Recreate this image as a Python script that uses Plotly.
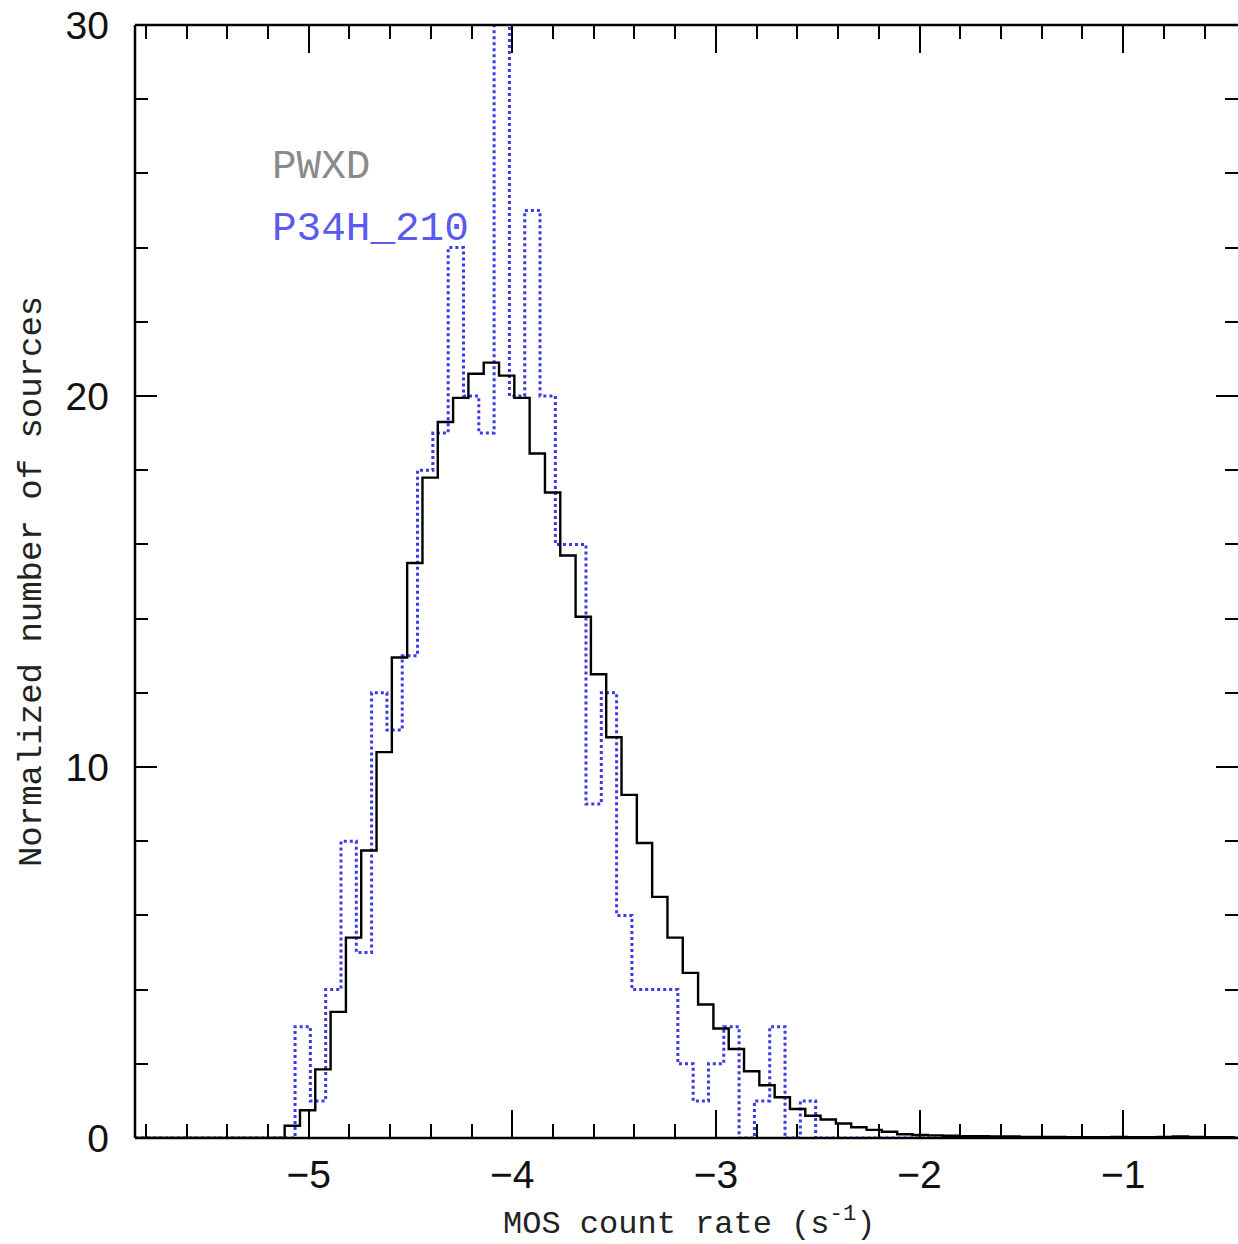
import numpy as np
import plotly.graph_objects as go

# ---------------- data ----------------
x_min, x_max = -5.853, -0.436
bin_width = 0.0752

pwxd_start = -5.118
pwxd_values = [0.33, 0.75, 1.85, 3.4, 5.4, 7.75, 10.4, 12.95, 15.5, 17.8,
               19.3, 19.95, 20.6, 20.9, 20.55, 19.95, 18.45, 17.4, 15.7, 14.05,
               12.5, 10.8, 9.25, 7.95, 6.5, 5.4, 4.45, 3.6, 2.95, 2.4,
               1.8, 1.42, 1.1, 0.78, 0.6, 0.5, 0.39, 0.29, 0.22, 0.17,
               0.1, 0.08, 0.07, 0.06, 0.05, 0.05, 0.04, 0.04, 0.03, 0.03,
               0.03, 0.02, 0.02, 0.02, 0.03, 0.02, 0.02, 0.03, 0.04, 0.03,
               0.02, 0.02]

p34h_start = -5.067
p34h_values = [3, 1, 4, 8, 5, 12, 11, 13, 18, 19,
               24, 20, 19, 32, 20, 25, 20, 16, 16, 9,
               12, 6, 4, 4, 4, 2, 1, 2, 3, 0,
               1, 3, 0, 1, 0]
p34h_zero_end = -1.1

series_names = ["PWXD", "P34H_210"]
x_ticks = [-5, -4, -3, -2, -1]
y_ticks = [0, 10, 20, 30]


def step_xy(start, values, lo, hi):
    edges = start + bin_width * np.arange(len(values) + 1)
    xs = [lo] + list(edges[:-1]) + [edges[-1], hi]
    ys = [0] + list(values) + [0, 0]
    return xs, ys


bx, by = step_xy(pwxd_start, pwxd_values, x_min, x_max)
px, py = step_xy(p34h_start, p34h_values, x_min, p34h_zero_end)

fig = go.Figure()
fig.add_trace(go.Scatter(x=px, y=py, mode="lines", line_shape="hv",
                         line=dict(color="#3a3ae6", width=3, dash="3px,3px"),
                         name=series_names[1], showlegend=False))
fig.add_trace(go.Scatter(x=bx, y=by, mode="lines", line_shape="hv",
                         line=dict(color="#000000", width=2.4),
                         name=series_names[0], showlegend=False))

tick_font = dict(family="Liberation Sans", size=39, color="#111")
title_font = dict(family="Liberation Mono", size=32, color="#222")

fig.update_xaxes(range=[x_min, x_max], tickvals=x_ticks, ticks="inside",
                 ticklen=28, tickwidth=2, tickcolor="#000",
                 minor=dict(dtick=0.2, tick0=-5, ticks="inside", ticklen=14,
                            tickwidth=2, tickcolor="#000"),
                 showline=False, mirror="ticks", showgrid=False, zeroline=False,
                 tickfont=tick_font, ticklabelstandoff=10)
fig.update_yaxes(range=[0, 30], tickvals=y_ticks, ticks="inside",
                 ticklen=22, tickwidth=2, tickcolor="#000",
                 minor=dict(dtick=2, tick0=0, ticks="inside", ticklen=13,
                            tickwidth=2, tickcolor="#000"),
                 showline=False, mirror="ticks", showgrid=False, zeroline=False,
                 tickfont=tick_font, ticklabelstandoff=25)

# frame (left, top, bottom) - right side lies outside the picture
for x0, y0, x1, y1 in [(0, 0, 0, 1), (0, 1, 1, 1), (0, 0, 1, 0)]:
    fig.add_shape(type="line", xref="paper", yref="paper", x0=x0, y0=y0, x1=x1, y1=y1,
                  line=dict(color="#000", width=2.5), layer="above")

fig.add_annotation(text="MOS count rate (s<sup>-1</sup>)", xref="paper", yref="paper",
                   x=0.5023, y=-0.0755, xanchor="center", yanchor="middle",
                   showarrow=False, font=title_font)
fig.add_annotation(text="Normalized number of sources", xref="paper", yref="paper",
                   x=-0.0934, y=0.5004, xanchor="center", yanchor="middle",
                   textangle=-90, showarrow=False,
                   font=dict(family="Liberation Mono", size=34, color="#222"))
fig.add_annotation(text=series_names[0], xref="x", yref="y", x=-5.19, y=26.17,
                   xanchor="left", yanchor="middle", showarrow=False,
                   font=dict(family="Liberation Mono", size=41, color="#8a8a8a"))
fig.add_annotation(text=series_names[1], xref="x", yref="y", x=-5.19, y=24.5,
                   xanchor="left", yanchor="middle", showarrow=False,
                   font=dict(family="Liberation Mono", size=41, color="#5a5aee"))

fig.update_layout(width=1238, height=1244, margin=dict(l=135, r=0, t=25, b=106),
                  paper_bgcolor="white", plot_bgcolor="white", showlegend=False)

fig.write_html("out.html")
